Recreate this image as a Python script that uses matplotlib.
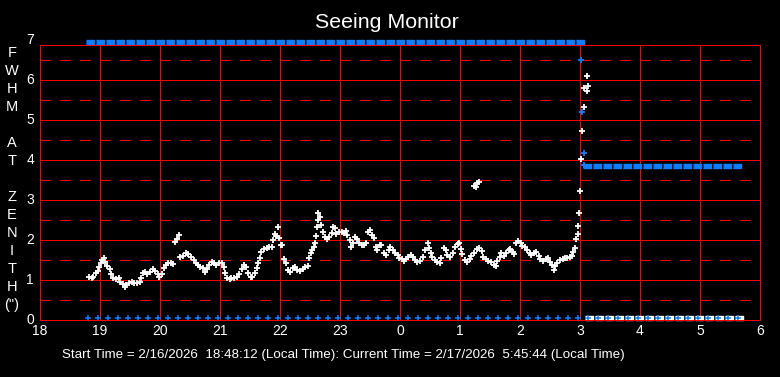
import numpy as np
import matplotlib.pyplot as plt
from matplotlib.transforms import offset_copy

plt.rcParams['font.family'] = ['Liberation Sans', 'DejaVu Sans']
plt.rcParams['lines.scale_dashes'] = False

# FWHM au zenith, heures depuis 18h (24 et plus = apres minuit)
soir_t = [18.82, 18.86, 18.89, 18.93, 18.96, 18.99, 19.01, 19.04, 19.07, 19.09,
          19.11, 19.16, 19.19, 19.22, 19.27, 19.31, 19.33, 19.38, 19.42, 19.44,
          19.49, 19.53, 19.57, 19.61, 19.66, 19.68, 19.71, 19.75, 19.79, 19.83,
          19.88, 19.92, 19.96, 19.99, 20.03, 20.07, 20.10, 20.14, 20.18, 20.22,
          20.25, 20.28, 20.32, 20.34, 20.39, 20.43, 20.47, 20.51, 20.56, 20.60,
          20.64, 20.67, 20.71, 20.75, 20.78, 20.82, 20.86, 20.90, 20.94, 20.99,
          21.03, 21.06, 21.08, 21.11, 21.16, 21.19, 21.23, 21.28, 21.32, 21.36,
          21.40, 21.43, 21.47, 21.51, 21.54, 21.58, 21.61, 21.64, 21.67, 21.69,
          21.73, 21.78, 21.82, 21.86, 21.89, 21.92, 21.94, 21.96, 21.98, 22.01,
          22.04, 22.07, 22.10, 22.14, 22.17, 22.21, 22.25, 22.29, 22.33, 22.38,
          22.42, 22.46, 22.49, 22.51, 22.53, 22.56, 22.58, 22.60, 22.61, 22.63,
          22.64, 22.67, 22.69, 22.71, 22.75, 22.78, 22.82, 22.86, 22.89, 22.92,
          22.94, 22.99]
soir_v = [1.08, 1.04, 1.07, 1.17, 1.23, 1.32, 1.42, 1.50, 1.54, 1.46,
          1.35, 1.27, 1.15, 1.04, 1.02, 1.04, 0.96, 0.90, 0.83, 0.88,
          0.93, 0.96, 0.93, 0.92, 0.96, 1.06, 1.17, 1.21, 1.14, 1.21,
          1.27, 1.23, 1.15, 1.08, 1.15, 1.29, 1.38, 1.43, 1.43, 1.39,
          1.96, 2.02, 2.13, 1.57, 1.60, 1.67, 1.65, 1.58, 1.50, 1.43,
          1.38, 1.32, 1.29, 1.21, 1.27, 1.38, 1.46, 1.43, 1.38, 1.42,
          1.43, 1.32, 1.17, 1.04, 1.02, 1.04, 1.04, 1.07, 1.15, 1.27,
          1.38, 1.32, 1.18, 1.08, 1.07, 1.17, 1.29, 1.42, 1.54, 1.71,
          1.77, 1.79, 1.83, 1.83, 2.00, 2.15, 2.10, 2.33, 2.04, 1.88,
          1.88, 1.52, 1.42, 1.25, 1.21, 1.29, 1.32, 1.25, 1.23, 1.27,
          1.32, 1.35, 1.54, 1.67, 1.75, 1.83, 1.92, 2.10, 2.32, 2.50,
          2.67, 2.57, 2.38, 2.21, 2.08, 2.02, 2.08, 2.17, 2.33, 2.29,
          2.15, 2.21]

nuit_t = [23.03, 23.07, 23.10, 23.12, 23.16, 23.19, 23.22, 23.25, 23.28, 23.32,
          23.36, 23.40, 23.43, 23.47, 23.50, 23.54, 23.57, 23.60, 23.62, 23.66,
          23.69, 23.73, 23.77, 23.81, 23.84, 23.88, 23.92, 23.96, 23.99, 24.03,
          24.07, 24.10, 24.14, 24.18, 24.21, 24.25, 24.29, 24.33, 24.38, 24.42,
          24.46, 24.49, 24.51, 24.54, 24.58, 24.62, 24.66, 24.69, 24.73, 24.77,
          24.79, 24.83, 24.88, 24.92, 24.96, 24.99, 25.01, 25.04, 25.08, 25.12,
          25.16, 25.19, 25.23, 25.28, 25.32, 25.36, 25.39, 25.43, 25.47, 25.51,
          25.56, 25.60, 25.62, 25.66, 25.69, 25.73, 25.77, 25.81, 25.84, 25.88,
          25.90, 25.93, 25.97, 26.01, 26.04, 26.08, 26.12, 26.16, 26.19, 26.23,
          26.27, 26.31, 26.34, 26.39, 26.43, 26.47, 26.50, 26.53, 26.56, 26.58,
          26.62, 26.67, 26.71, 26.75, 26.79, 26.83, 26.86, 26.89, 26.91, 26.93,
          26.96, 26.97, 26.99]
nuit_v = [2.21, 2.17, 2.23, 2.13, 2.00, 1.83, 1.92, 2.08, 2.02, 1.93,
          1.88, 1.88, 1.92, 2.21, 2.25, 2.13, 2.04, 1.83, 1.75, 1.88,
          1.88, 1.67, 1.63, 1.75, 1.83, 1.75, 1.67, 1.63, 1.54, 1.52,
          1.48, 1.52, 1.58, 1.63, 1.57, 1.50, 1.46, 1.48, 1.58, 1.75,
          1.93, 1.79, 1.67, 1.58, 1.50, 1.46, 1.42, 1.54, 1.79, 1.75,
          1.63, 1.57, 1.67, 1.83, 1.90, 1.92, 1.77, 1.65, 1.50, 1.46,
          1.52, 1.60, 1.67, 1.77, 1.79, 1.73, 1.58, 1.52, 1.48, 1.46,
          1.38, 1.35, 1.48, 1.57, 1.67, 1.60, 1.67, 1.75, 1.77, 1.71,
          1.65, 1.92, 1.98, 1.93, 1.85, 1.82, 1.75, 1.68, 1.63, 1.67,
          1.71, 1.60, 1.52, 1.48, 1.52, 1.54, 1.46, 1.38, 1.25, 1.35,
          1.43, 1.50, 1.52, 1.54, 1.54, 1.57, 1.60, 1.71, 1.79, 2.02,
          2.15, 2.35, 2.67]

# montee vers 3h et petit groupe isole vers 1h15
montee_t = [27.005, 27.02, 27.04, 27.06, 27.07, 27.12, 27.11, 27.14]
montee_v = [3.22, 4.02, 4.72, 5.32, 5.79, 5.72, 6.09, 5.84]
iso_t = [25.24, 25.27, 25.28, 25.31]
iso_v = [3.36, 3.33, 3.42, 3.44]

# serie bleue : saturee en haut, chute vers 3h, puis palier
bleu_t = [27.02, 27.04, 27.06, 27.07]
bleu_v = [6.49, 5.19, 4.17, 3.87]
haut_debut, haut_fin, haut_val = 18.83, 27.0, 6.95
palier_debut, palier_fin, palier_val = 27.12, 29.78, 3.84
# valeurs nulles (bleu tout le long, blanc apres 3h)
zero_bleu_debut, zero_bleu_fin = 18.8, 29.8
zero_blanc_debut, zero_blanc_fin = 27.15, 29.77
cadence = 1 / 6.  # un point toutes les 10 min

heures = list(range(18, 31))
heures_lab = [str(h % 24) for h in heures]
ylab = ['F', 'W', 'H', 'M', '', 'A', 'T', '', 'Z', 'E', 'N', 'I', 'T', 'H', '(")']

rouge = '#ff0000'
bleu = '#0f7dff'
boite = [(-0.5, -0.28), (0.5, -0.28), (0.5, 0.28), (-0.5, 0.28)]

fig = plt.figure(figsize=(7.8, 3.77), dpi=100, facecolor='k')
ax = fig.add_axes([40/780, 57/377, 720/780, 275/377])
ax.set_facecolor('k')
ax.set_xlim(18, 30)
ax.set_ylim(0, 6.875)

# grille (1 px, sans lissage)
lw = 0.5
for y in range(1, 7):
    ax.axhline(y, color=rouge, lw=lw, antialiased=False)
for y in np.arange(0.5, 7, 1):
    ax.axhline(y, color=rouge, lw=lw, dashes=(7.9, 6.5), antialiased=False)
for h in heures[1:-1]:
    ax.axvline(h, color=rouge, lw=lw, antialiased=False)
for s in ax.spines.values():
    s.set_color(rouge)
    s.set_linewidth(lw)
    s.set_antialiased(False)

# bandes de points
t = np.arange(haut_debut, haut_fin, cadence)
ax.plot(t, np.full(len(t), haut_val), ls='none', marker=boite, ms=6.4, color=bleu,
        clip_on=False, antialiased=False)
t = np.arange(palier_debut, palier_fin, cadence)
ax.plot(t, np.full(len(t), palier_val), ls='none', marker=boite, ms=6.4, color=bleu,
        antialiased=False)
t = np.arange(zero_blanc_debut, zero_blanc_fin, cadence)
ax.plot(t, np.full(len(t), 0.05), ls='none', marker=boite, ms=6.4, color='w',
        clip_on=False, antialiased=False)
t = np.arange(zero_bleu_debut, zero_bleu_fin, cadence)
ax.plot(t, np.full(len(t), 0.06), ls='none', marker='+', ms=4.5, mew=1.1, color=bleu)

# FWHM
ax.plot(soir_t + nuit_t + montee_t + iso_t, soir_v + nuit_v + montee_v + iso_v,
        ls='none', marker='+', ms=4.8, mew=1.3, color='w')
ax.plot(bleu_t, bleu_v, ls='none', marker='+', ms=4.8, mew=1.3, color=bleu)

# axes
ax.set_xticks(heures)
ax.set_xticklabels(heures_lab, color='w', fontsize=10)
ax.tick_params(axis='x', length=0, pad=3)
ax.set_yticks([])
tr = offset_copy(ax.transData, fig=fig, x=-6, y=0, units='dots')
for v in range(8):
    ax.text(18, v, str(v), transform=tr, ha='right', va='center', color='w',
            fontsize=10, clip_on=False)
for i, c in enumerate(ylab):
    fig.text(12/780, 1 - (53 + 18*i)/377, c, ha='center', va='center', color='w', fontsize=10.5)

fig.text(387/780, 1 - 22/377, 'Seeing Monitor', ha='center', va='center', color='w', fontsize=15.4)
fig.text(62/780, 1 - 355/377,
         'Start Time = 2/16/2026  18:48:12 (Local Time): Current Time = 2/17/2026  5:45:44 (Local Time)',
         ha='left', va='center', color='w', fontsize=9.6)

plt.savefig('out.png', dpi=100, facecolor='k')
